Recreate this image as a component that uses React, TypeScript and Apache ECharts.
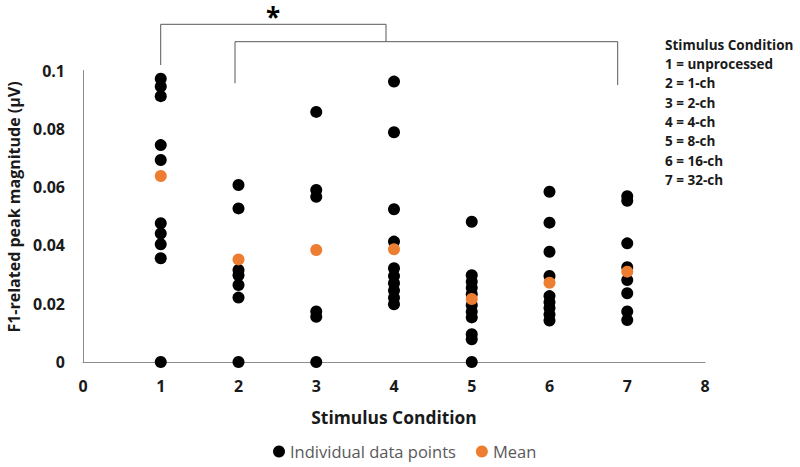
import React, { useEffect, useRef } from "react";
import * as echarts from "echarts";

const conditions = [1, 2, 3, 4, 5, 6, 7];
const cond1 = [0.0972, 0.0945, 0.0912, 0.0744, 0.0693, 0.0476, 0.0441, 0.0404, 0.0356, 0];
const cond2 = [0.0607, 0.0527, 0.0316, 0.0298, 0.0264, 0.0221, 0];
const cond3 = [0.0858, 0.059, 0.0567, 0.0173, 0.0155, 0];
const cond4 = [0.0962, 0.0788, 0.0524, 0.0413, 0.0322, 0.0295, 0.027, 0.0245, 0.022, 0.0198];
const cond5 = [0.0481, 0.0298, 0.0275, 0.0255, 0.0232, 0.0195, 0.0172, 0.0153, 0.0095, 0.0078, 0];
const cond6 = [0.0584, 0.0478, 0.0378, 0.0295, 0.0226, 0.0205, 0.0185, 0.0163, 0.0142];
const cond7 = [0.0569, 0.0553, 0.0407, 0.0325, 0.0281, 0.0236, 0.0173, 0.0144];
const individual = [cond1, cond2, cond3, cond4, cond5, cond6, cond7];
const means = [0.0638, 0.0352, 0.0384, 0.0387, 0.0216, 0.0272, 0.031];

const legendTitle = "Stimulus Condition";
const legendLines = [
  "1 = unprocessed",
  "2 = 1-ch",
  "3 = 2-ch",
  "4 = 4-ch",
  "5 = 8-ch",
  "6 = 16-ch",
  "7 = 32-ch",
];

const FONT = "'Open Sans', 'Noto Sans', sans-serif";

export default function App() {
  const ref = useRef<HTMLDivElement>(null);

  useEffect(() => {
    if (!ref.current) return;
    const chart = echarts.init(ref.current, null, { renderer: "svg" });

    const indData: number[][] = [];
    individual.forEach((vals, i) => {
      vals.forEach((v) => indData.push([conditions[i], v]));
    });
    const meanData = means.map((m, i) => [conditions[i], m]);

    const boxTexts: any[] = [
      {
        type: "text",
        left: 665,
        top: 38,
        style: { text: legendTitle, font: `bold 13.5px ${FONT}`, fill: "#1a1a1a" },
      },
      ...legendLines.map((t, i) => ({
        type: "text",
        left: 665,
        top: 57 + i * 19.3,
        style: { text: t, font: `bold 13.5px ${FONT}`, fill: "#1a1a1a" },
      })),
    ];

    chart.setOption({
      animation: false,
      backgroundColor: "#ffffff",
      textStyle: { fontFamily: FONT },
      grid: {
        left: 83,
        right: 95,
        top: 70.5,
        bottom: 105,
        containLabel: false,
        outerBoundsMode: "none",
      },
      xAxis: {
        type: "value",
        min: 0,
        max: 8,
        interval: 1,
        name: "Stimulus Condition",
        nameLocation: "middle",
        nameGap: 46,
        nameTextStyle: { fontFamily: FONT, fontWeight: "bold", fontSize: 17.4, color: "#1a1a1a" },
        axisLine: { show: true, lineStyle: { color: "#8c8c8c", width: 1 } },
        axisTick: { show: false },
        splitLine: { show: false },
        axisLabel: { margin: 16, fontFamily: FONT, fontWeight: "bold", fontSize: 16, color: "#1a1a1a" },
      },
      yAxis: {
        type: "value",
        min: 0,
        max: 0.1,
        interval: 0.02,
        axisLine: { show: true, lineStyle: { color: "#8c8c8c", width: 1 } },
        axisTick: { show: false },
        splitLine: { show: false },
        axisLabel: { margin: 18, fontFamily: FONT, fontWeight: "bold", fontSize: 16, color: "#1a1a1a" },
      },
      legend: {
        top: 443,
        left: 273,
        padding: 0,
        itemWidth: 12,
        itemHeight: 12,
        itemGap: 20,
        icon: "circle",
        textStyle: { fontFamily: FONT, fontSize: 16.5, color: "#595959" },
        data: ["Individual data points", "Mean"],
      },
      graphic: [
        {
          type: "polyline",
          shape: { points: [[160.7, 65], [160.7, 24.3], [386, 24.3], [386, 41.7]] },
          style: { stroke: "#595959", lineWidth: 1, fill: null },
        },
        {
          type: "polyline",
          shape: { points: [[235, 83.3], [235, 41.7], [617.7, 41.7], [617.7, 85]] },
          style: { stroke: "#595959", lineWidth: 1, fill: null },
        },
        {
          type: "text",
          x: 273,
          y: 17,
          style: {
            text: "*",
            font: `bold 26px ${FONT}`,
            fill: "#000",
            textAlign: "center",
            textVerticalAlign: "middle",
          },
        },
        {
          type: "text",
          x: 14,
          y: 207,
          rotation: Math.PI / 2,
          style: {
            text: "F1-related peak magnitude (μV)",
            font: `bold 16px ${FONT}`,
            fill: "#1a1a1a",
            textAlign: "center",
            textVerticalAlign: "middle",
          },
        },
        ...boxTexts,
      ],
      series: [
        {
          name: "Individual data points",
          type: "scatter",
          data: indData,
          symbol: "circle",
          symbolSize: 12,
          itemStyle: { color: "#000000", opacity: 1 },
          z: 2,
        },
        {
          name: "Mean",
          type: "scatter",
          data: meanData,
          symbol: "circle",
          symbolSize: 12,
          itemStyle: { color: "#ED7D31", opacity: 1 },
          z: 3,
        },
      ],
    });

    return () => chart.dispose();
  }, []);

  return (
    <div
      ref={ref}
      style={{ position: "fixed", left: 0, top: 0, width: 800, height: 467, background: "#fff" }}
    />
  );
}
